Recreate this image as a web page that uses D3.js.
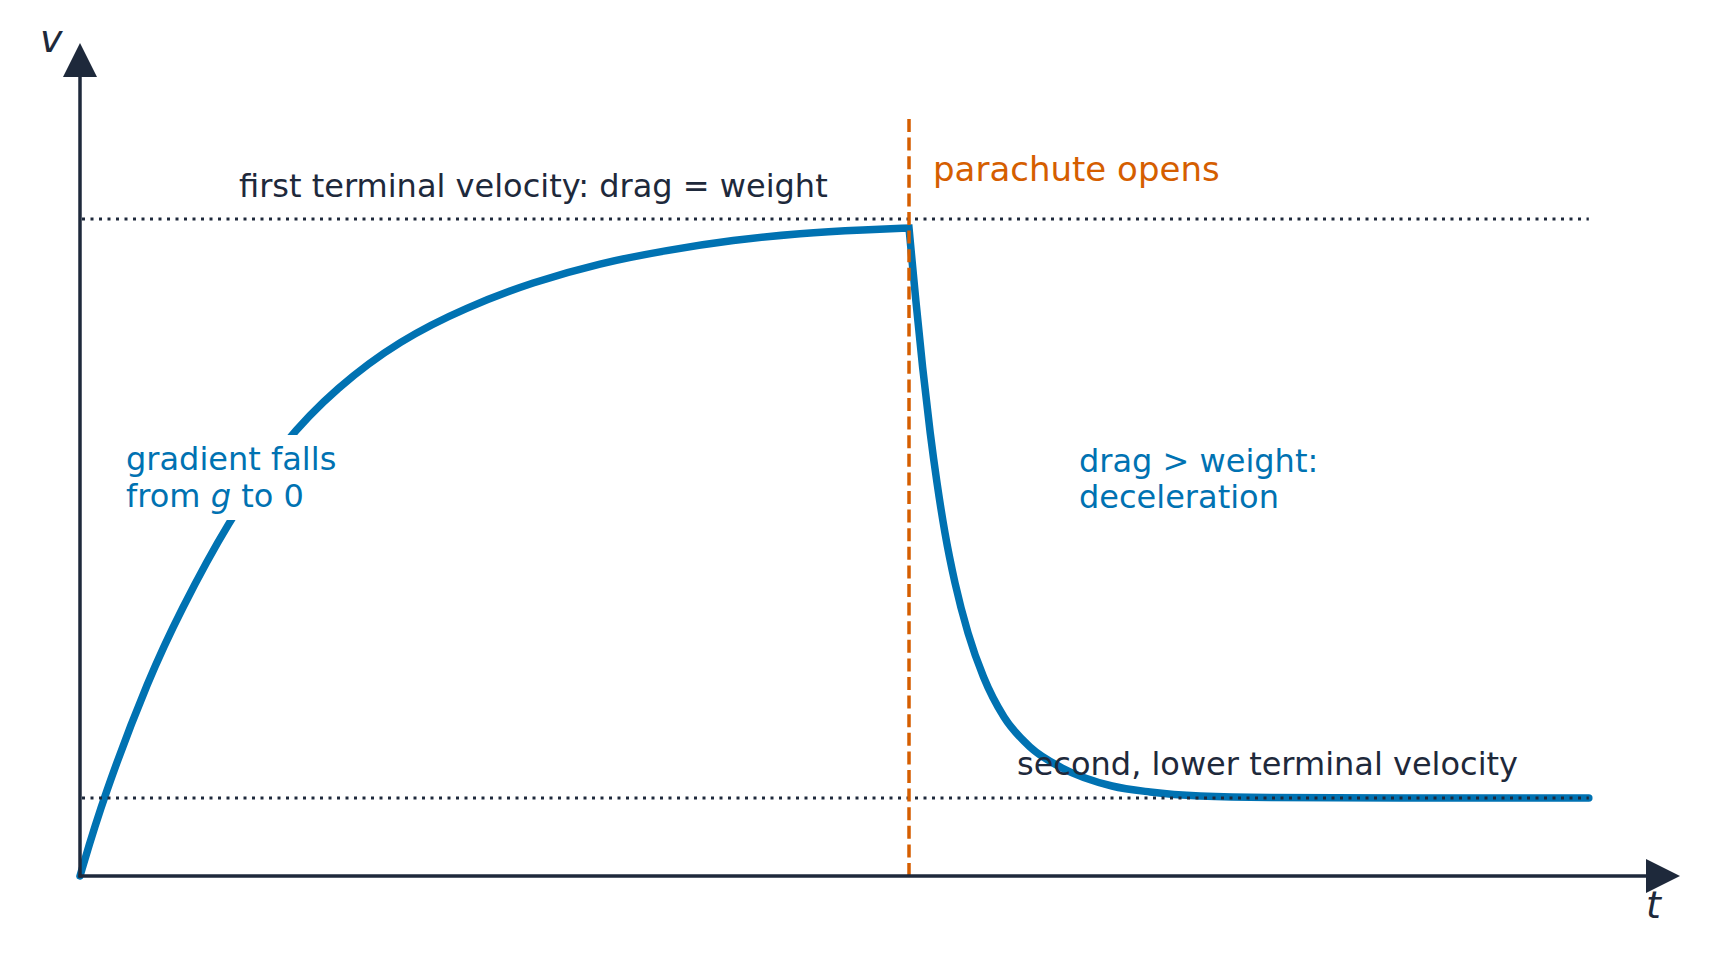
<!DOCTYPE html>
<html>
<head>
<meta charset="utf-8">
<script src="https://cdn.jsdelivr.net/npm/d3@7"></script>
<style>
  body { margin: 0; background: #fff; }
  svg { display: block; font-family: "DejaVu Sans", sans-serif; }
</style>
</head>
<body>
<svg id="chart" width="1717" height="972"></svg>
<script>
// values (t in arbitrary units, parachute at t = 10;
// v relative to the first terminal velocity)
const riseT = [0, 0.277, 0.844, 1.206, 1.773, 2.449, 3.100, 3.860, 4.668, 5.464, 6.273, 7.081, 7.877, 8.685, 9.493, 10.0];
const riseV = [0, 0.1187, 0.3059, 0.4018, 0.5373, 0.6606, 0.7443, 0.8158, 0.8661, 0.9041, 0.9330, 0.9528, 0.9680, 0.9787, 0.9839, 0.9863];
const fallT = [10.0, 10.036, 10.082, 10.164, 10.256, 10.338, 10.434, 10.555, 10.712, 10.899, 11.146, 11.460, 11.846, 12.449, 12.907, 13.510, 14.354, 15.923, 18.2];
const fallV = [0.9863, 0.9376, 0.8767, 0.7747, 0.6743, 0.5982, 0.5221, 0.4460, 0.3699, 0.3029, 0.2420, 0.1963, 0.1644, 0.1370, 0.1279, 0.1218, 0.1195, 0.1189, 0.1187];

const vTerminal1 = 1.0;
const vTerminal2 = 0.1187;
const tOpen = 10;
const tLineEnd = 18.2;
const tMax = 19.3;
const vMax = 1.268;

const blue = '#0072B2';
const orange = '#D55E00';
const ink = '#1e293b';

const svg = d3.select('#chart');

const x = d3.scaleLinear().domain([0, tMax]).range([80, 1680]);
const y = d3.scaleLinear().domain([0, vMax]).range([876, 43]);

const riseLine = d3.line()
  .x((d) => x(d[0]))
  .y((d) => y(d[1]))
  .curve(d3.curveBasis);

const fallLine = d3.line()
  .x((d) => x(d[0]))
  .y((d) => y(d[1]))
  .curve(d3.curveMonotoneX);

const rise = riseT.map((t, i) => [t, riseV[i]]);
const fall = fallT.map((t, i) => [t, fallV[i]]);

// velocity curve, sharp corner where the parachute opens
svg.append('path')
  .attr('d', riseLine(rise) + fallLine(fall).replace(/^M/, 'L'))
  .attr('fill', 'none')
  .attr('stroke', blue)
  .attr('stroke-width', 7.5)
  .attr('stroke-linecap', 'round')
  .attr('stroke-linejoin', 'miter');

// terminal velocity guides
[vTerminal1, vTerminal2].forEach((v) => {
  svg.append('line')
    .attr('x1', x(0) + 2)
    .attr('x2', x(tLineEnd))
    .attr('y1', y(v))
    .attr('y2', y(v))
    .attr('stroke', ink)
    .attr('stroke-width', 3)
    .attr('stroke-dasharray', '3 5.5');
});

// parachute opens
svg.append('line')
  .attr('x1', x(tOpen))
  .attr('x2', x(tOpen))
  .attr('y1', 119)
  .attr('y2', y(0))
  .attr('stroke', orange)
  .attr('stroke-width', 3.5)
  .attr('stroke-dasharray', '13 5.6');

// axes with arrow heads
const axes = svg.append('g').attr('fill', ink).attr('stroke', ink);

axes.append('line')
  .attr('x1', x(0)).attr('x2', x(0))
  .attr('y1', y(0) + 1.5).attr('y2', y(vMax) + 30)
  .attr('stroke-width', 3.5);

axes.append('line')
  .attr('x1', x(0) - 1.5).attr('x2', x(tMax) - 30)
  .attr('y1', y(0)).attr('y2', y(0))
  .attr('stroke-width', 3.5);

axes.append('path')
  .attr('stroke', 'none')
  .attr('d', `M${x(0)},${y(vMax)} L${x(0) + 17},${y(vMax) + 34} L${x(0) - 17},${y(vMax) + 34} Z`);

axes.append('path')
  .attr('stroke', 'none')
  .attr('d', `M${x(tMax)},${y(0)} L${x(tMax) - 34},${y(0) - 17} L${x(tMax) - 34},${y(0) + 17} Z`);

svg.append('text')
  .attr('x', 40).attr('y', 52)
  .attr('font-size', 38).attr('font-style', 'italic')
  .attr('fill', ink)
  .text('v');

svg.append('text')
  .attr('x', 1646).attr('y', 918)
  .attr('font-size', 38).attr('font-style', 'italic')
  .attr('fill', ink)
  .text('t');

// annotations
const label = (px, py, color, size = 32) => svg.append('text')
  .attr('x', px).attr('y', py)
  .attr('font-size', size)
  .attr('fill', color);

label(239, 197, ink).text('first terminal velocity: drag = weight');
label(x(tOpen) + 24, 181, orange, 34).text('parachute opens');
label(1017, 775, ink).text('second, lower terminal velocity');
label(1079, 472, blue).text('drag > weight:');
label(1079, 508, blue).text('deceleration');

// label on the rising curve gets a white box behind it
const gradBox = svg.append('rect').attr('fill', '#fff');
const g1 = label(126, 470, blue).text('gradient falls');
const g2 = label(126, 507, blue);
g2.append('tspan').text('from ');
g2.append('tspan').attr('font-style', 'italic').text('g');
g2.append('tspan').text(' to 0');

const b1 = g1.node().getBBox();
const b2 = g2.node().getBBox();
const pad = 7;
const bx0 = Math.min(b1.x, b2.x) - pad;
const bx1 = Math.max(b1.x + b1.width, b2.x + b2.width) + pad;
gradBox
  .attr('x', bx0)
  .attr('y', b1.y - pad + 2)
  .attr('width', bx1 - bx0)
  .attr('height', b2.y + b2.height - b1.y + 2 * pad - 4);
</script>
</body>
</html>
